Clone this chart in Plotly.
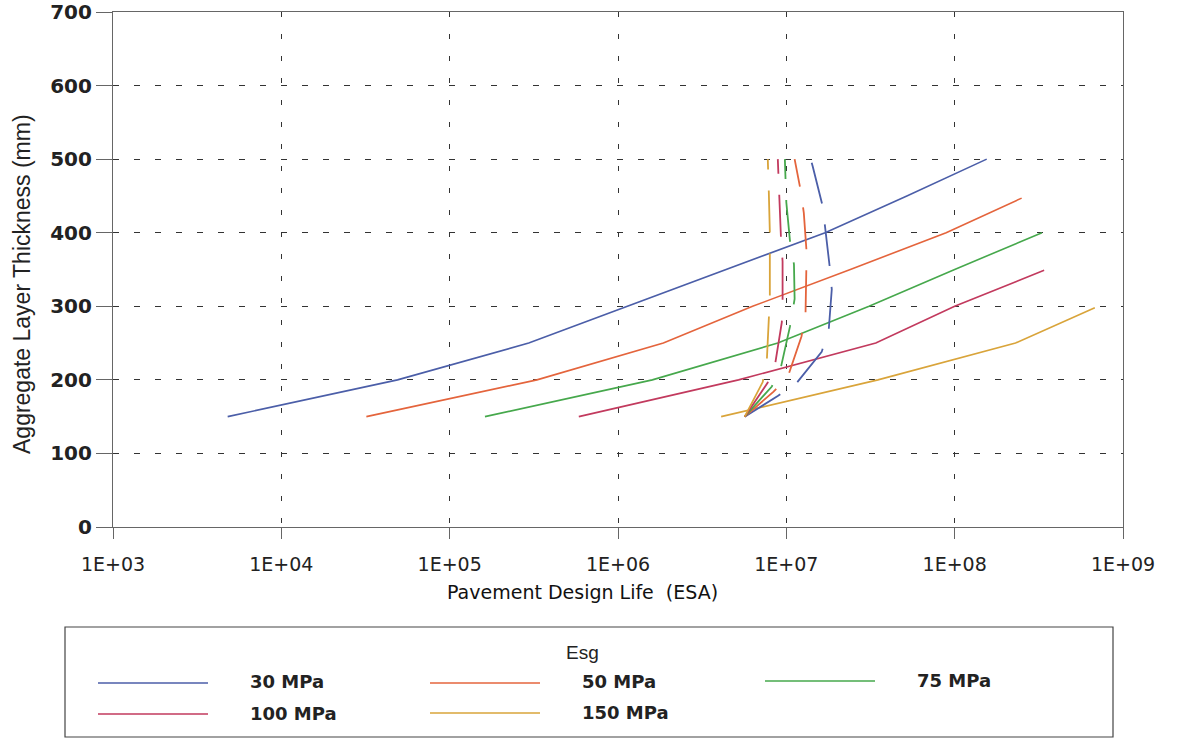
import plotly.graph_objects as go

# ---------------- data ----------------
names = ["30 MPa", "50 MPa", "75 MPa", "100 MPa", "150 MPa"]
colors = ["#4b5ea8", "#e4643c", "#46a84c", "#c23a5e", "#d9a43a"]

# solid design curves (ESA, thickness mm)
esa_30 = [4.8e3, 4.9e4, 2.95e5, 1.15e6, 4.4e6, 1.7e7, 5.2e7, 1.55e8]
thk_30 = [150, 200, 250, 300, 350, 400, 450, 500]
esa_50 = [3.2e4, 3.3e5, 1.86e6, 6.3e6, 2.4e7, 8.9e7, 2.5e8]
thk_50 = [150, 200, 250, 300, 350, 400, 447]
esa_75 = [1.62e5, 1.6e6, 8.9e6, 3.1e7, 1.0e8, 3.3e8]
thk_75 = [150, 200, 250, 300, 350, 400]
esa_100 = [5.85e5, 5.2e6, 3.4e7, 1.0e8, 3.4e8]
thk_100 = [150, 200, 250, 300, 349]
esa_150 = [4.1e6, 3.5e7, 2.3e8, 6.8e8]
thk_150 = [150, 200, 250, 298]

# dashed curves
esa_30d = [5.66e6, 8.89e6, 1.153e7, 1.622e7, 1.786e7, 1.862e7, 1.811e7, 1.690e7, 1.644e7, 1.435e7, 1.396e7]
thk_30d = [150, 178, 196, 238, 268, 323, 353, 407, 436, 490, 500]
esa_50d = [5.66e6, 8.4e6, 1.02e7, 1.23e7, 1.30e7, 1.32e7, 1.32e7, 1.27e7, 1.22e7, 1.12e7]
thk_50d = [150, 184, 204, 259, 289, 346, 373, 427, 456, 500]
esa_75d = [5.66e6, 8.2e6, 9.3e6, 1.05e7, 1.12e7, 1.11e7, 1.05e7, 1.0e7, 9.8e6]
thk_75d = [150, 191, 218, 272, 310, 357, 390, 441, 500]
esa_100d = [5.66e6, 7.74e6, 8.6e6, 9.4e6, 9.5e6, 9.5e6, 9.3e6, 9.1e6, 8.9e6]
thk_100d = [150, 196, 223, 278, 306, 361, 391, 445, 500]
esa_150d = [5.66e6, 7.24e6, 7.66e6, 7.87e6, 7.98e6, 7.98e6, 7.98e6, 7.87e6, 7.76e6]
thk_150d = [150, 197, 227, 285, 312, 368, 400, 455, 500]

x_tickvals = [1e3, 1e4, 1e5, 1e6, 1e7, 1e8, 1e9]
x_ticktext = ["1E+03", "1E+04", "1E+05", "1E+06", "1E+07", "1E+08", "1E+09"]
y_tickvals = [0, 100, 200, 300, 400, 500, 600, 700]

solid = [(esa_30, thk_30), (esa_50, thk_50), (esa_75, thk_75), (esa_100, thk_100), (esa_150, thk_150)]
dashed = [(esa_30d, thk_30d), (esa_50d, thk_50d), (esa_75d, thk_75d), (esa_100d, thk_100d), (esa_150d, thk_150d)]

# ---------------- figure ----------------
W, H = 1177, 743
PL, PR, PT, PB = 113, 1123, 12, 527

fig = go.Figure()
for (x, y), n, c in zip(solid, names, colors):
    fig.add_trace(go.Scatter(x=x, y=y, mode="lines", name=n,
                             line=dict(color=c, width=1.6), showlegend=False))
for (x, y), n, c in zip(dashed, names, colors):
    fig.add_trace(go.Scatter(x=x, y=y, mode="lines", name=n + " (dashed)",
                             line=dict(color=c, width=1.8, dash="42px,21px"),
                             showlegend=False))

def px(xp):
    return (xp - PL) / (PR - PL)

def py(yp):
    return (PB - yp) / (PB - PT)

shapes = []
annotations = []
# axis titles
annotations.append(dict(text="Aggregate Layer Thickness (mm)", xref="paper", yref="paper",
                        x=px(22), y=py(284), textangle=-90, showarrow=False,
                        xanchor="center", yanchor="middle",
                        font=dict(family="Liberation Sans", size=23, color="#222")))
annotations.append(dict(text="Pavement Design Life  (ESA)", xref="paper", yref="paper",
                        x=px(582), y=py(592), showarrow=False,
                        xanchor="center", yanchor="middle",
                        font=dict(family="DejaVu Sans", size=19, color="#111")))
# legend box
shapes.append(dict(type="rect", xref="paper", yref="paper",
                   x0=px(65), x1=px(1113), y0=py(737), y1=py(627),
                   line=dict(color="#444", width=1.2), fillcolor="rgba(0,0,0,0)"))
annotations.append(dict(text="Esg", xref="paper", yref="paper", x=px(582), y=py(652),
                        showarrow=False, xanchor="center", yanchor="middle",
                        font=dict(family="Liberation Sans", size=19, color="#222")))
leg_pos = [(98, 683), (430, 683), (765, 681), (98, 714), (430, 713)]
for (lx, ly), n, c in zip(leg_pos, names, colors):
    shapes.append(dict(type="line", xref="paper", yref="paper",
                       x0=px(lx), x1=px(lx + 110), y0=py(ly), y1=py(ly),
                       line=dict(color=c, width=1.6)))
    annotations.append(dict(text=n, xref="paper", yref="paper", x=px(lx + 150), y=py(ly - 1),
                            showarrow=False, xanchor="left", yanchor="middle",
                            font=dict(family="DejaVu Sans", size=18, color="#222", weight="bold")))

fig.update_layout(
    width=W, height=H,
    margin=dict(l=PL, r=W - PR, t=PT, b=H - PB, autoexpand=False),
    paper_bgcolor="white", plot_bgcolor="white",
    showlegend=False,
    shapes=shapes, annotations=annotations,
    xaxis=dict(type="log", range=[3, 9], tickvals=x_tickvals, ticktext=x_ticktext,
               showgrid=True, gridcolor="#333", griddash="5px,17px", gridwidth=1,
               showline=True, linecolor="#666", linewidth=1.2, mirror=True,
               ticks="outside", ticklen=11, tickcolor="#666",
               ticklabelstandoff=9, automargin=False,
               tickfont=dict(family="DejaVu Sans", size=19, color="#222"),
               zeroline=False),
    yaxis=dict(range=[0, 700], tickvals=y_tickvals,
               showgrid=True, gridcolor="#333", griddash="6px,15px", gridwidth=1,
               showline=True, linecolor="#666", linewidth=1.2, mirror=True,
               ticks="outside", ticklen=16, tickcolor="#666", automargin=False,
               tickfont=dict(family="DejaVu Sans", size=20, color="#222", weight="bold"),
               zeroline=False),
)

fig.write_html("out.html")
